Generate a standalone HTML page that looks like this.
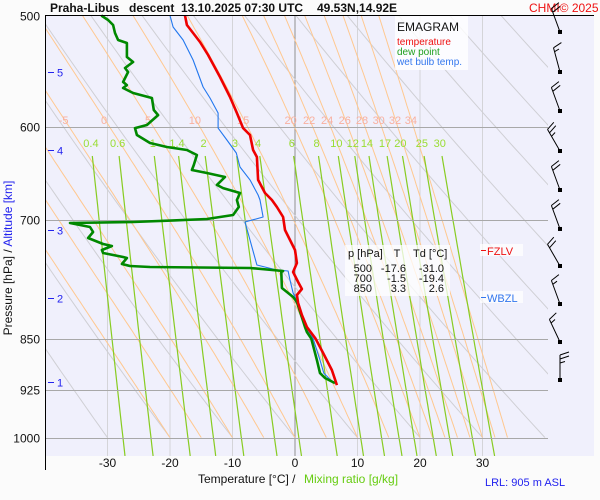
<!DOCTYPE html>
<html><head><meta charset="utf-8"><style>
html,body{margin:0;padding:0;background:#fbfbfb;}
svg{display:block;font-family:"Liberation Sans",sans-serif;}
</style></head><body>
<svg id="chart" width="600" height="500" viewBox="0 0 600 500" xmlns="http://www.w3.org/2000/svg">
<rect x="0" y="0" width="600" height="500" fill="#fbfbfb"/>
<rect x="46" y="16" width="548" height="440" fill="#f0f0fc"/>
<g id="grid"></g>
<g id="series"></g>
<line x1="45.5" y1="15" x2="45.5" y2="470" stroke="#000" stroke-width="1"/>
<line x1="45" y1="15.5" x2="594" y2="15.5" stroke="#000" stroke-width="1"/>
<g font-weight="bold" font-size="12" fill="#111">
<text x="50" y="12">Praha-Libus</text>
<text x="129" y="12">descent</text>
<text x="181" y="12">13.10.2025 07:30 UTC</text>
<text x="317" y="12">49.53N,14.92E</text>
</g>
<text x="529" y="12" font-size="12" fill="#ee1111">CHMI© 2025</text>
<g>
<rect x="395" y="16" width="73" height="54" fill="#ffffff" fill-opacity="0.8"/>
<text x="397" y="31" font-size="12" fill="#111">EMAGRAM</text>
<text x="397" y="45" font-size="10" fill="#ee1111">temperature</text>
<text x="397" y="55" font-size="10" fill="#20a020">dew point</text>
<text x="397" y="65" font-size="10" fill="#3377ee">wet bulb temp.</text>
</g>
<g font-size="11" fill="#111">
<rect x="345" y="245" width="105" height="51" fill="#ffffff" fill-opacity="0.75"/>
<text x="348" y="257">p [hPa]</text>
<text x="397" y="257" text-anchor="middle">T</text>
<text x="413" y="257">Td [°C]</text>
<g id="tablerows"></g>
</g>
<g>
<rect x="480" y="244" width="43" height="12" fill="#ffffff" fill-opacity="0.7"/>
<line x1="481" y1="250.5" x2="486" y2="250.5" stroke="#ee1111"/>
<text x="487" y="255" font-size="11" fill="#ee1111">FZLV</text>
</g>
<g>
<rect x="480" y="291" width="43" height="12" fill="#ffffff" fill-opacity="0.7"/>
<line x1="481" y1="297.5" x2="486" y2="297.5" stroke="#3377ee"/>
<text x="487" y="302" font-size="11" fill="#3377ee">WBZL</text>
</g>
<text transform="translate(12,258) rotate(-90)" text-anchor="middle" font-size="12"><tspan fill="#111">Pressure [hPa]  /  </tspan><tspan fill="#2222ee">Altitude [km]</tspan></text>
<text x="198" y="483" font-size="12" fill="#111">Temperature [°C]  /</text>
<text x="304" y="483" font-size="12" fill="#66cc11">Mixing ratio [g/kg]</text>
<text x="485" y="486" font-size="11" fill="#2222ee">LRL: 905 m ASL</text>
</svg>
<script>
// ---- data ----
const pressureTicks = [500, 600, 700, 850, 925, 1000];
const tempTicks = [-30, -20, -10, 0, 10, 20, 30];
const altTicks = [5, 4, 3, 2, 1];
const altTickP = [548.6, 623.6, 711.1, 795.0, 913.3];
const moistThetaW = [-20, -15, -10, -5, 0, 5, 10, 15, 20, 22, 24, 26, 28, 30, 32, 34];
const moistLabels = [-5, 0, 5, 10, 15, 20, 22, 24, 26, 28, 30, 32, 34];
const dryTheta = [-40, -30, -20, -10, 0, 10, 20, 30, 40, 50, 60, 70, 80, 90, 100, 110, 120];
const mixRatios = [0.4, 0.6, 1, 1.4, 2, 3, 4, 6, 8, 10, 12, 14, 17, 20, 25, 30];
const tempP = [500, 507.9, 514.6, 522.2, 533.5, 553.1, 571.6, 586.8, 601.5, 608.4, 623.6, 630.8, 655.0, 669.2, 676.9, 684.7, 696.1, 711.1, 722.9, 734.8, 750.7, 761.9, 774.5, 783.5, 791.2, 801.7, 817.6, 833.9, 850, 870.3, 895.0, 917.3];
const tempT = [-17.6, -17.3, -16.3, -15.2, -13.9, -12.0, -10.4, -9.3, -8.3, -7.2, -6.7, -6.1, -5.9, -4.8, -3.7, -2.9, -1.9, -1.6, -0.8, 0.0, 0.3, -0.3, 0.5, 1.1, 0.3, 0.5, 1.1, 1.9, 3.3, 4.5, 5.9, 6.7];
const dewP = [500, 503.7, 507.9, 514.6, 520.5, 523.1, 535.3, 539.7, 545.0, 548.6, 557.7, 560.5, 563.2, 567.9, 572.5, 583.9, 588.8, 598.5, 601.5, 608.4, 616.4, 620.5, 623.6, 628.7, 639.1, 644.4, 647.6, 651.8, 660.4, 663.8, 669.2, 676.9, 684.7, 693.8, 698.4, 700, 701.8, 703.0, 707.6, 713.4, 720.5, 727.6, 730.0, 734.8, 738.5, 743.4, 744.6, 751.9, 754.4, 755.6, 756.9, 760.6, 761.9, 782.2, 787.3, 793.8, 800.4, 833.9, 840.8, 850, 880.4, 899.4, 906.8, 914.3];
const dewT = [-31.0, -29.9, -29.1, -28.8, -28.3, -26.9, -26.9, -25.9, -27.2, -26.7, -27.5, -26.9, -27.5, -25.9, -22.9, -22.6, -21.9, -23.7, -25.6, -25.3, -23.2, -20.5, -17.3, -15.7, -16.2, -16.5, -14.1, -11.2, -12.5, -11.5, -8.8, -9.3, -9.0, -9.9, -14.1, -19.4, -25.9, -36.0, -32.8, -32.3, -33.1, -30.7, -29.3, -30.9, -30.7, -27.5, -26.9, -27.7, -26.4, -23.2, -7.2, -1.9, -2.2, -2.1, -1.3, -0.3, 0.3, 1.6, 1.9, 2.6, 3.5, 4.0, 4.8, 6.4];
const wbP = [500, 509.5, 520.5, 537.9, 562.3, 572.5, 586.8, 601.5, 613.4, 626.6, 641.2, 655.0, 671.4, 676.9, 696.1, 701.8, 722.9, 753.2, 759.4, 760.6, 772.0, 788.6, 801.7, 833.9, 850, 880.4, 899.4, 914.3];
const wbT = [-20.0, -19.5, -17.9, -16.3, -14.7, -13.6, -12.3, -12.3, -10.9, -9.4, -8.8, -7.2, -5.9, -5.6, -5.1, -8.0, -7.2, -6.1, -2.9, -1.1, -0.8, -0.3, 0.5, 1.8, 2.9, 4.0, 4.6, 6.2];
const tableP = [500, 700, 850];
const tableT = [-17.6, -1.5, 3.3];
const tableTd = [-31.0, -19.4, 2.6];
const windP = [513.7, 548.6, 584.9, 624.6, 665.9, 709.9, 754.4, 803.0, 854.7, 909.7];
const windDir = [340, 345, 340, 330, 340, 340, 330, 340, 335, 360];
const windSpd = [20, 15, 20, 25, 20, 20, 20, 15, 15, 25];

// ---- axes ----
const NS = 'http://www.w3.org/2000/svg';
const Y0 = 15.5, KY = 609;
function yOf(p){ return Y0 + KY * Math.log(p / 500); }
function pOfY(y){ return 500 * Math.exp((y - Y0) / KY); }
function xOf(t){ return 295 + 6.25 * t; }
const XL = 46, XR = 548, YB = 437.6;
function mk(tag, attrs, parent){
  const e = document.createElementNS(NS, tag);
  for (const k in attrs) e.setAttribute(k, attrs[k]);
  parent.appendChild(e);
  return e;
}
const grid = document.getElementById('grid');
const series = document.getElementById('series');
const svg = document.getElementById('chart');
const defs = mk('defs', {}, svg);
const cp = mk('clipPath', {id: 'plotclip'}, defs);
mk('rect', {x: XL, y: 16, width: XR - XL, height: YB - 16}, cp);
const cp2 = mk('clipPath', {id: 'plotclip2'}, defs);
mk('rect', {x: XL, y: 16, width: XR - XL, height: 456 - 16}, cp2);

function es(tc){ return 6.112 * Math.exp(17.67 * tc / (tc + 243.5)); }
function path(pts){ return pts.map((q, i) => (i ? 'L' : 'M') + q[0].toFixed(1) + ' ' + q[1].toFixed(1)).join(''); }

const gIso = mk('g', {}, grid);


for (let t = -30; t <= 30; t += 10){
  const l = mk('line', {x1: xOf(t), y1: 16, x2: xOf(t), y2: 456, stroke: t === 0 ? '#909090' : '#d4d4d8', 'stroke-width': 1}, gIso);
  
  
}
const gDry = mk('g', {'clip-path': 'url(#plotclip)'}, grid);


dryTheta.forEach(th => {
  const pts = [];
  for (let p = 500; p <= 1000; p += 10){ pts.push([xOf((th + 273.15) * Math.pow(p / 1000, 0.2857) - 273.15), yOf(p)]); }
  const e = mk('path', {d: path(pts), fill: 'none', stroke: '#cfcfd4', 'stroke-width': 1}, gDry);
  
  
});
function dTdp(p, TK){
  const e = es(TK - 273.15), rs = 0.622 * e / (p - e);
  const Rd = 287.04, cpd = 1005.7, L = 2.501e6;
  return (Rd * TK + L * rs) / (p * (cpd + L * L * rs * 0.622 / (Rd * TK * TK)));
}
function moistT(tw, ptarget){
  let TK = tw + 273.15, p = 1000;
  const dp = -2;
  while (p > ptarget + 1e-6){
    const k1 = dTdp(p, TK), k2 = dTdp(p + dp, TK + dp * k1);
    TK += dp * (k1 + k2) / 2; p += dp;
  }
  return TK - 273.15;
}
const gMoist = mk('g', {'clip-path': 'url(#plotclip)'}, grid);


const labelP = pOfY(120);
moistThetaW.forEach(tw => {
  const pts = [];
  let TK = tw + 273.15, p = 1000;
  pts.push([xOf(tw), yOf(1000)]);
  while (p > 500){
    const dp = -5;
    const k1 = dTdp(p, TK), k2 = dTdp(p + dp, TK + dp * k1);
    TK += dp * (k1 + k2) / 2; p += dp;
    pts.push([xOf(TK - 273.15), yOf(p)]);
  }
  const e = mk('path', {d: path(pts), fill: 'none', stroke: '#ffc890', 'stroke-width': 1}, gMoist);
  
  
});
moistLabels.forEach(tw => {
  const t = mk('text', {x: xOf(moistT(tw, labelP)), y: 124, 'font-size': 11, fill: '#f8b0a0', 'text-anchor': 'middle'}, grid);
  t.textContent = String(tw);
  
  
});
const gMix = mk('g', {'clip-path': 'url(#plotclip2)'}, grid);


function tdFromW(w, p){
  const e = w * p / (622 + w);
  const l = Math.log(e / 6.112);
  return 243.5 * l / (17.67 - l);
}
mixRatios.forEach(w => {
  const pts = [];
  for (let y = 156; y <= 456; y += 10){ const p = pOfY(y); pts.push([xOf(tdFromW(w, p)), y]); }
  const e = mk('path', {d: path(pts), fill: 'none', stroke: '#88cc22', 'stroke-width': 1.2}, gMix);
  
  
  const t = mk('text', {x: xOf(tdFromW(w, pOfY(143))), y: 147, 'font-size': 11, fill: '#99dd33', 'text-anchor': 'middle'}, grid);
  t.textContent = String(w);
  
  
});
pressureTicks.forEach(p => {
  const y = Math.round(yOf(p)) + 0.5;
  if (p > 500){
    const l = mk('line', {x1: XL, y1: y, x2: XR, y2: y, stroke: '#a8a8a8', 'stroke-width': 1}, grid);
    
    
  }
  const t = mk('text', {x: 40, y: y + 4, 'font-size': 12, fill: '#111', 'text-anchor': 'end'}, svg);
  t.textContent = String(p);
  
  
});
tempTicks.forEach(tk => {
  const t = mk('text', {x: xOf(tk), y: 467, 'font-size': 12, fill: '#111', 'text-anchor': 'middle'}, svg);
  t.textContent = String(tk);
  
  
});
altTicks.forEach((a, i) => {
  const y = Math.round(yOf(altTickP[i])) + 0.5;
  const l = mk('line', {x1: 48, y1: y, x2: 54, y2: y, stroke: '#2222ee', 'stroke-width': 1}, svg);
  
  
  const t = mk('text', {x: 57, y: y + 4, 'font-size': 11, fill: '#2222ee'}, svg);
  t.textContent = String(a);
  
  
});
function profile(P, T, color, w, name){
  const pts = P.map((p, i) => [xOf(T[i]), yOf(p)]);
  const e = mk('path', {d: path(pts), fill: 'none', stroke: color, 'stroke-width': w, 'stroke-linejoin': 'round'}, series);
  
  
}
profile(wbP, wbT, '#2277ee', 1.1, 'wet-bulb-line');
profile(dewP, dewT, '#008800', 2.6, 'dew-point-line');
profile(tempP, tempT, '#ee0000', 2.6, 'temperature-line');
const tr = document.getElementById('tablerows');
tableP.forEach((p, i) => {
  const y = 272 + i * 10;
  const a = mk('text', {x: 372, y: y, 'text-anchor': 'end'}, tr);
  a.textContent = String(p);
  
  
  const b = mk('text', {x: 406, y: y, 'text-anchor': 'end'}, tr);
  b.textContent = tableT[i].toFixed(1);
  
  
  const c = mk('text', {x: 444, y: y, 'text-anchor': 'end'}, tr);
  c.textContent = tableTd[i].toFixed(1);
  
  
});
const gW = mk('g', {}, svg);


windP.forEach((p, i) => {
  const y = yOf(p), x = 560;
  const a = windDir[i] * Math.PI / 180;
  const ux = Math.sin(a), uy = -Math.cos(a);
  const L = 25;
  const tx = x + ux * L, ty = y + uy * L;
  const px = -uy, py = ux;
  let d = 'M' + x + ' ' + y + 'L' + tx.toFixed(1) + ' ' + ty.toFixed(1);
  let s = windSpd[i], k = 0;
  while (s >= 10){
    const bx = tx - ux * k * 4, by = ty - uy * k * 4;
    d += 'M' + bx.toFixed(1) + ' ' + by.toFixed(1) + 'L' + (bx + px * 9 + ux * 3).toFixed(1) + ' ' + (by + py * 9 + uy * 3).toFixed(1);
    s -= 10; k++;
  }
  if (s >= 5){
    const bx = tx - ux * k * 4, by = ty - uy * k * 4;
    d += 'M' + bx.toFixed(1) + ' ' + by.toFixed(1) + 'L' + (bx + px * 5 + ux * 1.5).toFixed(1) + ' ' + (by + py * 5 + uy * 1.5).toFixed(1);
  }
  const g = mk('g', {}, gW);
  
  
  mk('path', {d: d, fill: 'none', stroke: '#000', 'stroke-width': 1}, g);
  mk('rect', {x: x - 2, y: y - 2, width: 4, height: 4, fill: '#000'}, g);
});
</script>
</body></html>
